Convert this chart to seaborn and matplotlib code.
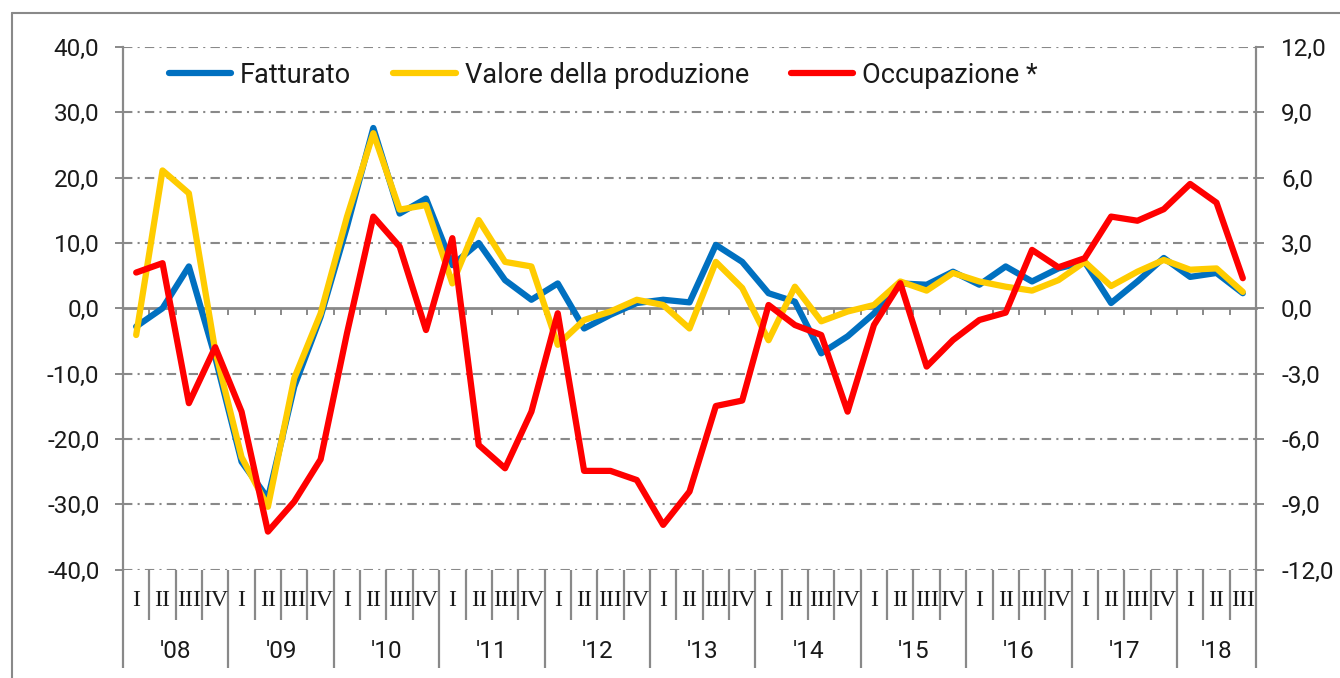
import numpy as np
import pandas as pd
import matplotlib
matplotlib.use("Agg")
import matplotlib.pyplot as plt
import matplotlib.transforms as mtransforms
from matplotlib.lines import Line2D
from matplotlib.ticker import FuncFormatter, FixedLocator
import seaborn as sns

# ---------------- data ----------------
years = ["'08", "'09", "'10", "'11", "'12", "'13", "'14", "'15", "'16", "'17", "'18"]
quarters_per_year = [4, 4, 4, 4, 4, 4, 4, 4, 4, 4, 3]
quarter_names = ["I", "II", "III", "IV"]

fatturato = [-2.8, 0.0, 6.4, -7.5, -23.5, -29.1, -12.0, -1.3, 12.5, 27.6, 14.5,
             16.8, 6.6, 10.0, 4.3, 1.3, 3.8, -3.1, -1.0, 0.8, 1.3, 0.9,
             9.7, 7.1, 2.3, 1.0, -6.9, -4.3, -0.8, 3.8, 3.6, 5.6, 3.6,
             6.4, 4.1, 6.1, 7.1, 0.8, 4.1, 7.7, 4.8, 5.4, 2.3]
valore_produzione = [-4.1, 21.1, 17.6, -6.5, -22.8, -30.4, -10.7, -0.8, 14.0, 26.8, 15.1,
                     15.8, 3.8, 13.5, 7.1, 6.4, -5.6, -1.8, -0.5, 1.3, 0.5, -3.1,
                     7.1, 3.1, -4.9, 3.3, -2.0, -0.5, 0.5, 4.1, 2.7, 5.4, 4.1,
                     3.3, 2.7, 4.3, 7.1, 3.4, 5.6, 7.4, 5.9, 6.1, 2.5]
occupazione = [1.64, 2.07, -4.36, -1.79, -4.75, -10.26, -8.88, -6.94, -1.15, 4.21, 2.83,
               -1.0, 3.22, -6.28, -7.35, -4.75, -0.23, -7.47, -7.47, -7.89, -9.95, -8.42,
               -4.49, -4.24, 0.15, -0.77, -1.23, -4.75, -0.77, 1.15, -2.68, -1.46, -0.54,
               -0.2, 2.68, 1.88, 2.3, 4.21, 4.02, 4.55, 5.71, 4.85, 1.38]

labels = ["Fatturato", "Valore della produzione", "Occupazione *"]
colors = ["#0070C0", "#FFCC00", "#FF0000"]

quarter_labels = [quarter_names[q] for n in quarters_per_year for q in range(n)]
n = len(quarter_labels)
idx = np.arange(n)
df = pd.DataFrame({"t": idx, "fatt": fatturato, "val": valore_produzione, "occ": occupazione})

# ---------------- style ----------------
sns.set_style("white")
plt.rcParams["font.family"] = ["Roboto", "DejaVu Sans"]
GRAY = "#898989"
TXT = "#1a1a1a"
FS = 17.5

fig = plt.figure(figsize=(13.4, 6.78), dpi=100)
ax = fig.add_axes([123 / 1340, 1 - 569.5 / 678, (1256 - 123) / 1340, 522.5 / 678])
ax2 = ax.twinx()

lw = 4.5
sns.lineplot(data=df, x="t", y="fatt", ax=ax, color=colors[0], linewidth=lw,
             solid_capstyle="round", solid_joinstyle="round", legend=False, zorder=3)
sns.lineplot(data=df, x="t", y="val", ax=ax, color=colors[1], linewidth=lw,
             solid_capstyle="round", solid_joinstyle="round", legend=False, zorder=4)
sns.lineplot(data=df, x="t", y="occ", ax=ax2, color=colors[2], linewidth=lw,
             solid_capstyle="round", solid_joinstyle="round", legend=False, zorder=5)

ax.set_xlim(-0.5, n - 0.5)
ax.set_ylim(-40, 40)
ax2.set_ylim(-12, 12)
ax.set_xlabel("")
ax.set_ylabel("")
ax2.set_ylabel("")

# y ticks
ax.set_yticks(np.arange(-40, 41, 10))
ax2.set_yticks(np.arange(-12, 13, 3))
fmt = FuncFormatter(lambda v, p: f"{v:.1f}".replace(".", ","))
ax.yaxis.set_major_formatter(fmt)
ax2.yaxis.set_major_formatter(fmt)
ax.tick_params(axis="y", left=True, length=6, width=1.4, color=GRAY, pad=11,
               labelsize=FS, labelcolor=TXT)
ax2.tick_params(axis="y", right=True, length=6, width=1.4, color=GRAY, pad=12,
                labelsize=FS, labelcolor=TXT)

# gridlines (dash-dot)
ax.grid(False)
ax2.grid(False)
for v in np.arange(-40, 41, 10):
    if v == 0:
        continue
    ax.axhline(v, color=GRAY, linewidth=1.5, linestyle=(0, (4.5, 2.5, 1, 2.5)), zorder=1)

# spines
for s in ["top"]:
    ax.spines[s].set_visible(False)
    ax2.spines[s].set_visible(False)
ax2.spines["bottom"].set_visible(False)
ax2.spines["left"].set_visible(False)
ax.spines["right"].set_visible(False)
ax.spines["bottom"].set_position(("data", 0))
ax.spines["bottom"].set_color(GRAY)
ax.spines["bottom"].set_linewidth(2.0)
ax.spines["bottom"].set_zorder(2)
ax.spines["left"].set_color(GRAY)
ax.spines["left"].set_linewidth(1.6)
ax2.spines["right"].set_color(GRAY)
ax2.spines["right"].set_linewidth(1.6)

# x ticks at category boundaries on the zero line
ax.xaxis.set_major_locator(FixedLocator(np.arange(n + 1) - 0.5))
ax.tick_params(axis="x", bottom=True, direction="out", length=5, width=1.4, color=GRAY,
               labelbottom=False)

# multi-level category labels below plot
trans = mtransforms.blended_transform_factory(ax.transData, ax.transAxes)
bounds = np.arange(n + 1) - 0.5
year_bounds = np.concatenate([[0], np.cumsum(quarters_per_year)]) - 0.5
ax.vlines([b for b in bounds if b not in year_bounds], -0.097, 0, transform=trans,
          color=GRAY, linewidth=1.6, clip_on=False)
ax.vlines(year_bounds, -0.1885, 0, transform=trans, color=GRAY, linewidth=1.6, clip_on=False)
for i, ql in enumerate(quarter_labels):
    ax.text(i, -0.06, ql, transform=trans, ha="center", va="center",
            fontsize=17, family=["Liberation Serif", "DejaVu Serif"], color=TXT)
start = 0
for y, cnt in zip(years, quarters_per_year):
    ax.text(start + (cnt - 1) / 2, -0.156, y, transform=trans, ha="center", va="center",
            fontsize=FS, color=TXT)
    start += cnt

# legend
LFS = 19.5
handles = [Line2D([], [], color=c, linewidth=lw, solid_capstyle="round") for c in colors]
leg = ax2.legend(handles, labels, loc="center left", bbox_to_anchor=(0.031, 0.946),
                 ncol=3, frameon=False, fontsize=LFS, handlelength=2.3,
                 handletextpad=0.33, columnspacing=1.55, borderaxespad=0)
for t in leg.get_texts():
    t.set_color(TXT)

# outer frame
fig.add_artist(Line2D([12 / 1340, 12 / 1340], [0, 1 - 13 / 678], color=GRAY, linewidth=1.5,
                      transform=fig.transFigure))
fig.add_artist(Line2D([12 / 1340, 1], [1 - 13 / 678, 1 - 13 / 678], color=GRAY, linewidth=1.5,
                      transform=fig.transFigure))

fig.savefig("out.png", dpi=100)
